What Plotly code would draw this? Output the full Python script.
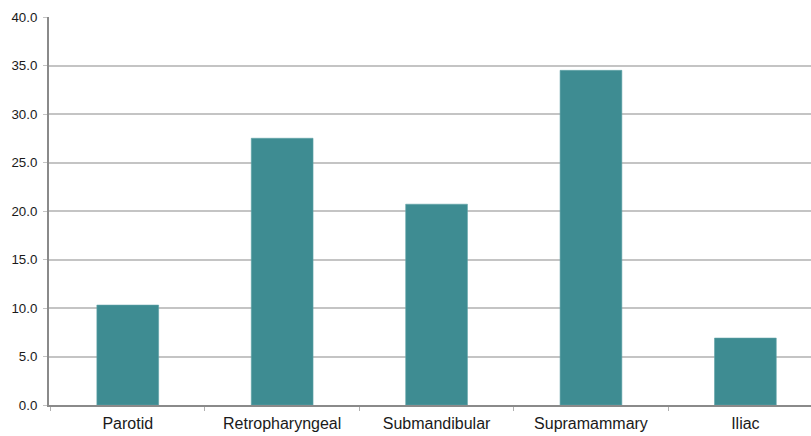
import plotly.graph_objects as go

categories = ["Parotid", "Retropharyngeal", "Submandibular", "Supramammary", "Iliac"]
values = [10.3, 27.5, 20.7, 34.5, 6.9]
y_ticks = [0, 5, 10, 15, 20, 25, 30, 35, 40]
y_tick_labels = ["0.0", "5.0", "10.0", "15.0", "20.0", "25.0", "30.0", "35.0", "40.0"]

fig = go.Figure(go.Bar(
    x=categories, y=values,
    marker=dict(color="#3E8C92", line=dict(color="#5FA3A8", width=0.6)),
    width=0.40,
))

fig.update_layout(
    width=811, height=436,
    margin=dict(l=49, r=0, t=17, b=31),
    paper_bgcolor="white", plot_bgcolor="white",
    font=dict(family="Liberation Sans, Arial, sans-serif", color="#1a1a1a"),
    showlegend=False,
    bargap=0.6,
)
fig.update_xaxes(
    type="category",
    range=[-0.51, 4.425],
    automargin=False,
    showline=True, linecolor="#8a8a8a", linewidth=2,
    ticks="outside", tickson="boundaries", ticklen=4, tickcolor="#b0b0b0", tickwidth=1,
    showgrid=False,
    tickfont=dict(size=16),
    ticklabelstandoff=3,
)
fig.update_yaxes(
    range=[0, 40],
    automargin=False,
    tickvals=y_ticks, ticktext=y_tick_labels,
    showline=True, linecolor="#8a8a8a", linewidth=2,
    showgrid=True, gridcolor="#c4c4c4", gridwidth=1.5,
    ticks="outside", ticklen=4, tickcolor="#c4c4c4",
    tickfont=dict(size=13.3),
    ticklabelstandoff=3,
    zeroline=False,
)

fig.write_html(
    "out.html",
    config={"displayModeBar": False},
    post_script="document.body.style.margin='0';document.body.style.overflow='hidden';",
)
